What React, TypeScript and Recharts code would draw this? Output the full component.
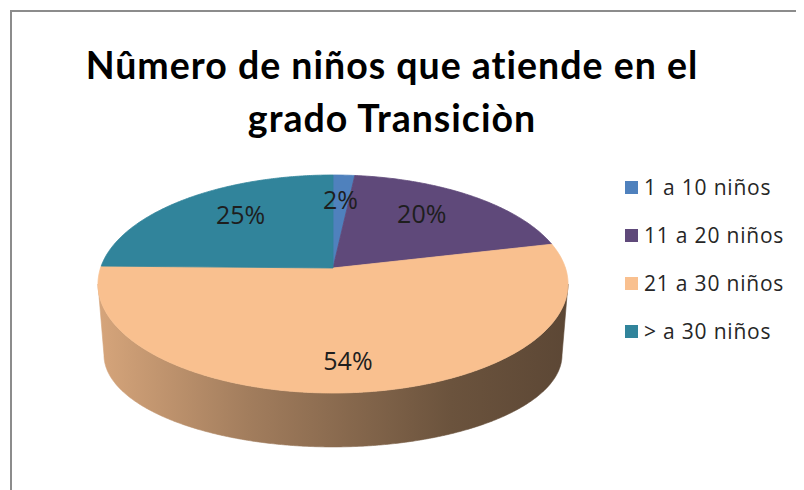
import React from 'react';
import { PieChart, Pie, Cell, Legend } from 'recharts';

const categories = ['1 a 10 niños', '11 a 20 niños', '21 a 30 niños', '> a 30 niños'];
const percentages = [2, 20, 54, 25];
const sliceColors = ['#4F81BD', '#5F497A', '#F9C08F', '#31849B'];
const titleLines = ['Nûmero de niños que atiende en el', 'grado Transiciòn'];

const data = categories.map((name, i) => ({ name, value: percentages[i] }));

// projection constants (ratios of the outer radius)
const RY = 0.4638;
const OFF = 0.0681;
const K = 0.53;
const RXB = 0.9745;
const OFFB = 0.37;
const RYB = 0.3915;
const LF = 0.74;

const toRad = (d: number) => (d * Math.PI) / 180;

function rimParam(cx: number, cy: number, r: number, angleDeg: number) {
  const a = toRad(angleDeg);
  const dx = Math.cos(a);
  const dy = -Math.sin(a) * K;
  const rx = r;
  const ry = r * RY;
  const oy = -r * OFF;
  const A = (dx * dx) / (rx * rx) + (dy * dy) / (ry * ry);
  const B = (2 * oy * dy) / (ry * ry);
  const C = (oy * oy) / (ry * ry) - 1;
  const t = (-B + Math.sqrt(B * B - 4 * A * C)) / (2 * A);
  const x = t * dx;
  const y = oy + t * dy;
  return Math.atan2(y / ry, x / rx);
}

function sliceParams(cx: number, cy: number, r: number, startAngle: number, endAngle: number) {
  const s = rimParam(cx, cy, r, startAngle);
  let e = rimParam(cx, cy, r, endAngle);
  while (e < s) e += 2 * Math.PI;
  return [s, e];
}

function shade(hex: string, f: number) {
  const n = parseInt(hex.slice(1), 16);
  const r = Math.round(((n >> 16) & 255) * f);
  const g = Math.round(((n >> 8) & 255) * f);
  const b = Math.round((n & 255) * f);
  return `rgb(${r},${g},${b})`;
}

const TopFace = (props: any) => {
  const { cx, cy, outerRadius: r, startAngle, endAngle, fill } = props;
  const [s, e] = sliceParams(cx, cy, r, startAngle, endAngle);
  const ecy = cy + r * OFF;
  const rx = r;
  const ry = r * RY;
  const n = Math.max(2, Math.ceil((e - s) / toRad(0.5)));
  let d = `M${cx},${cy}`;
  for (let i = 0; i <= n; i++) {
    const p = s + ((e - s) * i) / n;
    d += `L${(cx + rx * Math.cos(p)).toFixed(2)},${(ecy + ry * Math.sin(p)).toFixed(2)}`;
  }
  d += 'Z';
  return <path d={d} fill={fill} stroke={fill} strokeWidth={0.8} strokeLinejoin="round" />;
};

const WallFace = (props: any) => {
  const { cx, cy, outerRadius: r, startAngle, endAngle, fill, index } = props;
  const [s, e] = sliceParams(cx, cy, r, startAngle, endAngle);
  const ecy = cy + r * OFF;
  const ecyb = cy + r * OFFB;
  const rx = r;
  const ry = r * RY;
  const rxb = r * RXB;
  const ryb = r * RYB;
  const id = `wallGrad${index}`;
  const paths: string[] = [];
  for (const k of [0, 2 * Math.PI]) {
    const lo = Math.max(s, k);
    const hi = Math.min(e, k + Math.PI);
    if (hi - lo <= 1e-6) continue;
    const n = Math.max(2, Math.ceil((hi - lo) / toRad(0.5)));
    const top: string[] = [];
    const bot: string[] = [];
    for (let i = 0; i <= n; i++) {
      const p = lo + ((hi - lo) * i) / n;
      top.push(`${(cx + rx * Math.cos(p)).toFixed(2)},${(ecy + ry * Math.sin(p)).toFixed(2)}`);
      bot.push(`${(cx + rxb * Math.cos(p)).toFixed(2)},${(ecyb + ryb * Math.sin(p)).toFixed(2)}`);
    }
    paths.push('M' + top.join('L') + 'L' + bot.reverse().join('L') + 'Z');
  }
  if (!paths.length) return <g />;
  return (
    <g>
      <defs>
        <linearGradient id={id} gradientUnits="userSpaceOnUse" x1={cx - r} y1={0} x2={cx + r} y2={0}>
          <stop offset="0" stopColor={shade(fill, 0.86)} />
          <stop offset="0.32" stopColor={shade(fill, 0.65)} />
          <stop offset="0.75" stopColor={shade(fill, 0.43)} />
          <stop offset="1" stopColor={shade(fill, 0.37)} />
        </linearGradient>
      </defs>
      {paths.map((d, i) => (
        <path key={i} d={d} fill={`url(#${id})`} stroke={`url(#${id})`} strokeWidth={0.6} />
      ))}
    </g>
  );
};

const renderLabel = (props: any) => {
  const { cx, cy, outerRadius: r, startAngle, endAngle, value } = props;
  const mid = props.midAngle !== undefined ? props.midAngle : (startAngle + endAngle) / 2;
  const psi = rimParam(cx, cy, r, mid);
  const ecy = cy + r * OFF;
  const ox = r * Math.cos(psi);
  const oy = ecy + r * RY * Math.sin(psi) - cy;
  const x = cx + ox * LF * 0.92;
  const y = cy + oy * LF;
  return (
    <text
      x={x}
      y={y}
      textAnchor="middle"
      dominantBaseline="central"
      fill="#1e1e1e"
      style={{ fontFamily: '"Open Sans", sans-serif', fontSize: 25 }}
    >
      {`${value}%`}
    </text>
  );
};

const renderLegend = (props: any) => {
  const seen = new Set<string>();
  const items = (props.payload || []).filter((p: any) => {
    if (seen.has(p.value)) return false;
    seen.add(p.value);
    return true;
  });
  return (
    <div style={{ fontFamily: '"Open Sans", sans-serif', fontSize: 21, color: '#262626', letterSpacing: 0.8 }}>
      {items.map((it: any) => (
        <div key={it.value} style={{ display: 'flex', alignItems: 'center', height: 48, whiteSpace: 'nowrap' }}>
          <span style={{ display: 'inline-block', width: 13, height: 13, background: it.color, marginRight: 6 }} />
          <span>{it.value}</span>
        </div>
      ))}
    </div>
  );
};

export default function App() {
  return (
    <div style={{ position: 'relative', width: 796, height: 482, overflow: 'hidden', background: '#fff' }}>
      <div
        style={{
          position: 'absolute',
          left: 2,
          top: 2,
          width: 900,
          height: 700,
          border: '2px solid #8c8c8c',
          boxSizing: 'border-box',
        }}
      />
      <div
        style={{
          position: 'absolute',
          left: 0,
          top: 30,
          width: 768,
          textAlign: 'center',
          fontFamily: 'Lato, sans-serif',
          fontWeight: 700,
          fontSize: 37.5,
          lineHeight: '53px',
          letterSpacing: 1,
          color: '#000',
          pointerEvents: 'none',
        }}
      >
        {titleLines.map((l) => (
          <div key={l}>{l}</div>
        ))}
      </div>
      <div style={{ position: 'absolute', left: 0, top: 0 }}>
        <PieChart width={796} height={482} margin={{ top: 0, right: 0, bottom: 0, left: 0 }}>
          <Pie
            data={data}
            dataKey="value"
            nameKey="name"
            cx={325}
            cy={260}
            outerRadius={235}
            startAngle={90}
            endAngle={-270}
            isAnimationActive={false}
            legendType="none"
            shape={WallFace}
            activeShape={WallFace}
            inactiveShape={WallFace}
            label={false}
            labelLine={false}
            stroke="none"
          >
            {data.map((d, i) => (
              <Cell key={d.name} fill={sliceColors[i]} />
            ))}
          </Pie>
          <Pie
            data={data}
            dataKey="value"
            nameKey="name"
            cx={325}
            cy={260}
            outerRadius={235}
            startAngle={90}
            endAngle={-270}
            isAnimationActive={false}
            shape={TopFace}
            activeShape={TopFace}
            inactiveShape={TopFace}
            label={renderLabel}
            labelLine={false}
            stroke="none"
          >
            {data.map((d, i) => (
              <Cell key={d.name} fill={sliceColors[i]} />
            ))}
          </Pie>
          <Legend
            layout="vertical"
            align="right"
            verticalAlign="middle"
            content={renderLegend}
            wrapperStyle={{ position: 'absolute', left: 617, top: 155, width: 180, right: 'auto', bottom: 'auto' }}
          />
        </PieChart>
      </div>
    </div>
  );
}
